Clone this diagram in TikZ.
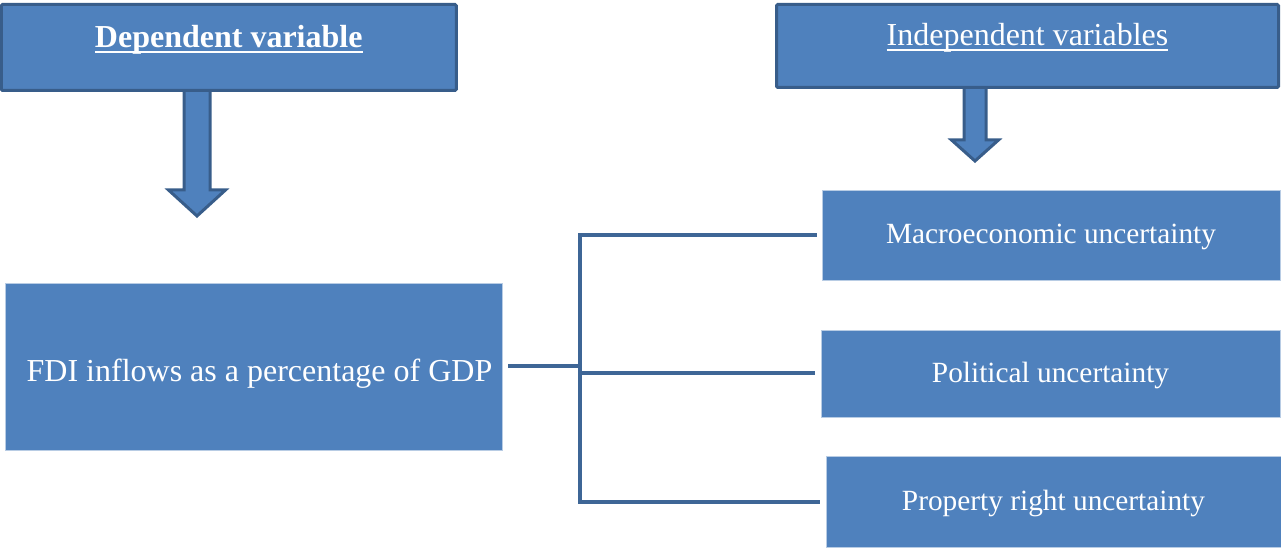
\documentclass[tikz,border=0pt]{standalone}
\usepackage{fontspec}
\setmainfont{Liberation Serif}
\usetikzlibrary{calc}
\definecolor{boxblue}{HTML}{4F81BD}
\definecolor{edgeblue}{HTML}{385D8A}
\definecolor{lineblue}{HTML}{3E6696}
\definecolor{rimblue}{HTML}{B8CCE4}

% underlined text with a rule of given thickness and drop
\newcommand{\ulinetext}[3]{\setbox0=\hbox{#3}\rlap{\copy0}\rule[-#2]{\wd0}{#1}}

\begin{document}
\begin{tikzpicture}[x=0.75pt, y=-0.75pt,
    headbox/.style={rectangle, draw=edgeblue, line width=2.25pt, fill=boxblue,
        text=white, inner sep=0pt, rounded corners=1pt,
        font=\fontsize{24}{28}\selectfont, text height=16pt, text depth=16pt},
    varbox/.style={rectangle, draw=rimblue, line width=0.6pt, fill=boxblue,
        text=white, inner sep=0pt, font=\fontsize{22}{26}\selectfont,
        text height=17.5pt, text depth=4pt},
    blockarrow/.style={draw=edgeblue, line width=2.25pt, fill=boxblue, line join=miter},
    link/.style={draw=lineblue, line width=3pt}]
    \useasboundingbox (0,0) rectangle (1281,548);

    % arrows first, boxes on top of them
    \coordinate (dtop) at (184,90.5);
    \coordinate (itop) at (964,87.5);
    \draw[blockarrow] (dtop) -- ++(0,99.5) -- ++(-15.5,0) -- ++(28.5,26)
        -- ++(28.5,-26) -- ++(-15.5,0) -- ++(0,-99.5) -- cycle;
    \draw[blockarrow] (itop) -- ++(0,52.5) -- ++(-12.5,0) -- ++(23.5,21)
        -- ++(23.5,-21) -- ++(-12.5,0) -- ++(0,-52.5) -- cycle;

    \draw (228.75,47.5) node(dep)[headbox, minimum width=341.25pt, minimum height=64.5pt]
        {\bfseries\ulinetext{2.2pt}{4.5pt}{Dependent variable}};
    \draw (1027.5,46) node(indep)[headbox, minimum width=376.5pt, minimum height=62.25pt]
        {\ulinetext{1.2pt}{3.4pt}{Independent variables}};

    \draw (253.5,366.5) node(fdi)[varbox, minimum width=372.75pt, minimum height=125.25pt,
        font=\fontsize{24}{28}\selectfont, text height=24pt, text depth=2pt]
        {\hspace*{9pt}FDI inflows as a percentage of GDP};

    \draw (1051,235) node(macro)[varbox, minimum width=343.5pt, minimum height=67.5pt]
        {Macroeconomic uncertainty};
    \draw (1050.5,373.5) node(polit)[varbox, minimum width=344.25pt, minimum height=65.25pt]
        {Political uncertainty};
    \draw (1053.5,501.5) node(prop)[varbox, minimum width=341.25pt, minimum height=68.25pt]
        {Property right uncertainty};

    % elbow connectors
    \coordinate (split) at (580,366.5);
    \draw[link, shorten <=4.5pt] (fdi.east) -- (split);
    \draw[link, shorten >=3.75pt] (split) |- (macro.west);
    \draw[link, shorten >=4.5pt] (split) |- (polit.west);
    \draw[link, shorten >=4.5pt] (split) |- (prop.west);
\end{tikzpicture}
\end{document}
